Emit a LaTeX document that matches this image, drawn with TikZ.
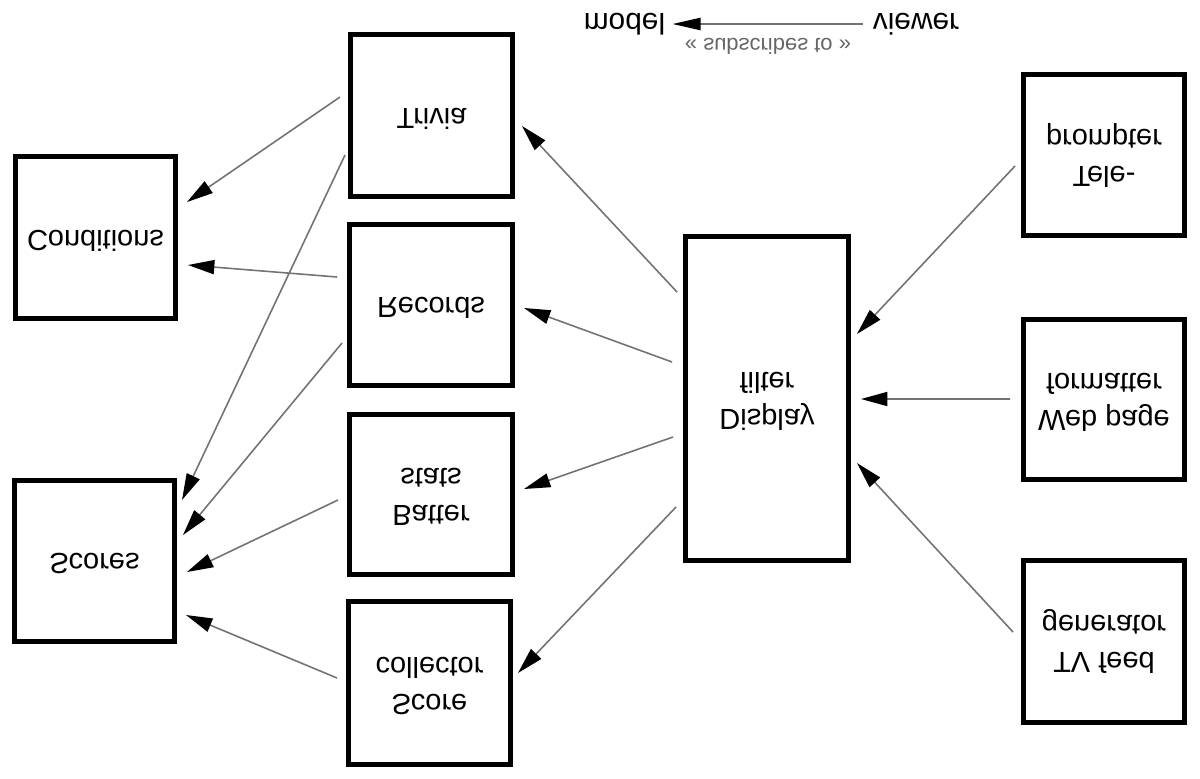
\documentclass[tikz,border=0pt]{standalone}
\usepackage{fontspec}
\setmainfont{Liberation Sans}
\usepackage{graphicx}
\usetikzlibrary{arrows.meta}
\newcommand\flipt[1]{\scalebox{1}[-1]{\begin{tabular}{@{}c@{}}#1\end{tabular}}}
\begin{document}
\begin{tikzpicture}[x=0.02cm,y=-0.02cm,
  box/.style={draw=black,line width=2.6pt,inner sep=0pt,outer sep=0pt,fill=white,
    font=\fontsize{16.5}{21}\selectfont},
  sq/.style={box,minimum width=3.22cm,minimum height=3.22cm},
  conn/.style={draw=black!55,line width=0.9pt,-{Triangle[length=15pt,width=8pt,color=black]}},
  legarrow/.style={draw=black!55,line width=0.9pt,-{Triangle[length=16pt,width=7pt,color=black]}},
  legtext/.style={inner sep=0pt,font=\fontsize{17}{20}\selectfont},
  stereo/.style={inner sep=0pt,text=black!60,font=\fontsize{12.5}{14}\selectfont}]
\fill[white] (0,0) rectangle (1200,778);
\useasboundingbox (0,0) rectangle (1200,778);

% boxes
\node[box,minimum width=3.2cm,minimum height=3.24cm] (cond) at (95.5,237.5) {\flipt{Conditions}};
\node[box,minimum width=3.2cm,minimum height=3.22cm] (scores) at (94.5,561) {\flipt{Scores}};
\node[box,minimum width=3.24cm,minimum height=3.24cm] (trivia) at (431.5,115.5) {\flipt{Trivia}};
\node[box,minimum width=3.26cm,minimum height=3.22cm] (records) at (431,305) {\flipt{Records}};
\node[box,minimum width=3.26cm,minimum height=3.2cm] (batter) at (431,494.5) {\flipt{Batter\\stats}};
\node[box,minimum width=3.24cm,minimum height=3.26cm] (collector) at (429.5,683) {\flipt{Score\\collector}};
\node[box,minimum width=3.26cm,minimum height=6.48cm] (display) at (767,398.5) {\flipt{Display\\filter}};
\node[sq] (tele) at (1104,155) {\flipt{Tele-\\prompter}};
\node[box,minimum width=3.22cm,minimum height=3.2cm] (web) at (1104,399.5) {\flipt{Web page\\formatter}};
\node[sq,minimum height=3.24cm] (tv) at (1104,641.5) {\flipt{TV feed\\generator}};

% connectors
\draw[conn] ([shift={(-10.5,-18.5)}]trivia.west) -- ([shift={(11.5,-35.5)}]cond.east);
\draw[conn] ([shift={(-12.5,-28)}]records.west) -- ([shift={(12.5,27.5)}]cond.east);
\draw[conn] ([shift={(-5.5,39.5)}]trivia.west) -- ([shift={(7.5,-61)}]scores.east);
\draw[conn] ([shift={(-7.5,38)}]records.west) -- ([shift={(8.5,-26)}]scores.east);
\draw[conn] ([shift={(-11.5,5.5)}]batter.west) -- ([shift={(12.5,11)}]scores.east);
\draw[conn] ([shift={(-11.5,-5)}]collector.west) -- ([shift={(11.5,54)}]scores.east);
\draw[conn] ([shift={(-8.5,-106.5)}]display.west) -- ([shift={(9.5,10.5)}]trivia.east);
\draw[conn] ([shift={(-13.5,-36.5)}]display.west) -- ([shift={(11.5,3)}]records.east);
\draw[conn] ([shift={(-12.5,38.5)}]display.west) -- ([shift={(11.5,-5.5)}]batter.east);
\draw[conn] ([shift={(-9.5,108.5)}]display.west) -- ([shift={(7.5,-10)}]collector.east);
\draw[conn] ([shift={(-8.5,11)}]tele.west) -- ([shift={(8.5,-64.5)}]display.east);
\draw[conn] ([shift={(-13.5,-0.5)}]web.west) -- ([shift={(12.5,0.5)}]display.east);
\draw[conn] ([shift={(-10.5,-9.5)}]tv.west) -- ([shift={(8.5,64.5)}]display.east);

% legend
\node[legtext] (model) at (624.5,24) {\scalebox{1}[-1]{model}};
\node[legtext] (viewer) at (916,24) {\scalebox{1}[-1]{viewer}};
\node[stereo] (subs) at (768,46) {\scalebox{1}[-1]{« subscribes to »}};
\draw[legarrow,shorten <=5.5pt,shorten >=4pt] (viewer.west) -- (model.east);
\end{tikzpicture}
\end{document}
